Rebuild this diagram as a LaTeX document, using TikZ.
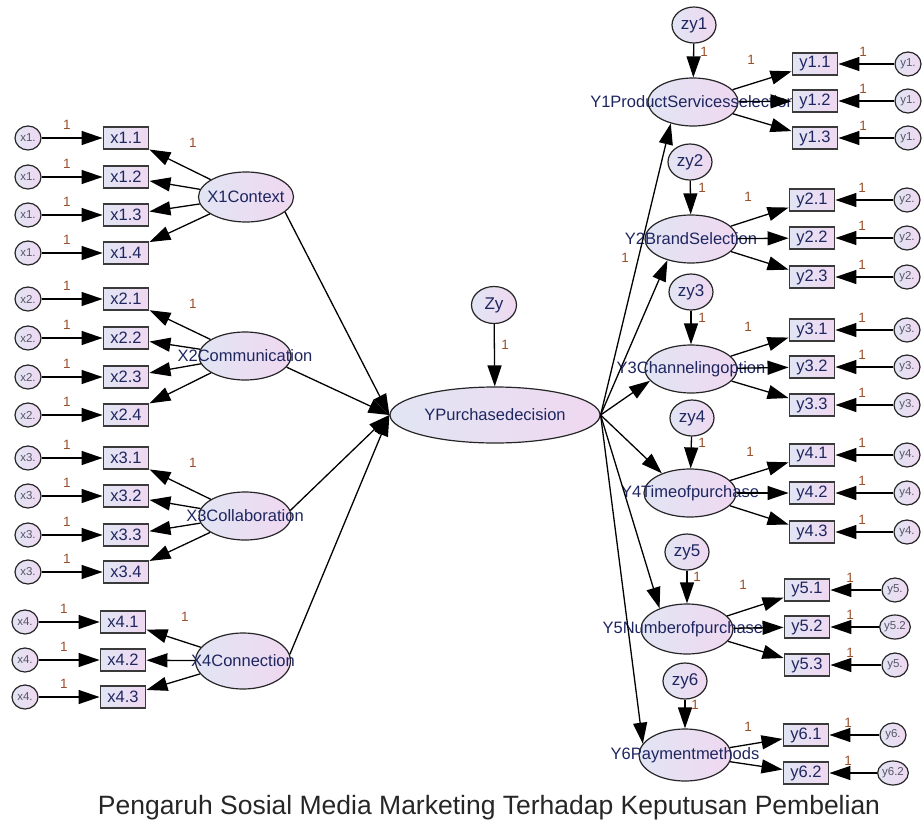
\documentclass[tikz,border=0pt]{standalone}
\usepackage{fontspec}
\setmainfont{Liberation Sans}
\usetikzlibrary{arrows.meta,shapes.geometric}
\definecolor{fillA}{HTML}{E2E5F3}
\definecolor{fillB}{HTML}{EFD8F1}
\definecolor{txt}{HTML}{1E2660}
\definecolor{onec}{HTML}{9A4E2A}
\definecolor{edgec}{HTML}{262626}
\definecolor{boxc}{HTML}{3A3A3A}
\definecolor{errt}{HTML}{555566}
\pgfdeclarelayer{back}
\pgfsetlayers{back,main}
\begin{document}
\begin{tikzpicture}[x=1pt,y=-1pt,
  latent/.style={ellipse,draw=edgec,line width=1.2pt,left color=fillA,right color=fillB,
    minimum width=92pt,minimum height=48pt,inner sep=0pt},
  latname/.style={inner sep=0pt,text=txt,font=\fontsize{16.5}{18}\selectfont},
  obs/.style={rectangle,draw=boxc,line width=1.9pt,left color=fillA,right color=fillB,
    minimum width=45pt,minimum height=22pt,inner sep=0pt,text=txt,font=\fontsize{16.5}{18}\selectfont},
  err/.style={ellipse,draw=edgec,line width=1.2pt,left color=fillA,right color=fillB,
    minimum width=26pt,minimum height=24pt,inner sep=0pt,text=errt,font=\fontsize{11.5}{12}\selectfont},
  dist/.style={ellipse,draw=edgec,line width=1.2pt,left color=fillA,right color=fillB,
    minimum width=44pt,minimum height=36pt,inner sep=0pt,text=txt,font=\fontsize{17}{18}\selectfont},
  one/.style={inner sep=0pt,text=onec,font=\fontsize{13.5}{14}\selectfont},
  ar/.style={draw=black,line width=1.3pt,-{Triangle[length=21pt,width=14pt]}}
]
\useasboundingbox (0,0) rectangle (922,825);

% ---------- latent variables (back layer, texts under boxes and arrows)
\begin{pgfonlayer}{back}
\node[latent,minimum width=95pt,minimum height=50pt] (X1) at (246,197) {};
\node[latname] at (X1) {X1Context};
\node[latent] (X2) at (245,356) {};
\node[latname] at (X2) {X2Communication};
\node[latent] (X3) at (245,516) {};
\node[latname] at (X3) {X3Collaboration};
\node[latent,minimum width=95pt,minimum height=56pt] (X4) at (243,661) {};
\node[latname] at (X4) {X4Connection};

\node[latent,minimum width=210pt,minimum height=56pt] (YP) at (495,415) {};
\node[latname] at (YP) {YPurchasedecision};

\node[latent,minimum width=90pt] (Y1) at (693,102) {};
\node[latname] at (Y1) {Y1ProductServicesselection};
\node[latent] (Y2) at (691,239) {};
\node[latname] at (Y2) {Y2BrandSelection};
\node[latent] (Y3) at (691,369) {};
\node[latname] at (Y3) {Y3Channelingoption};
\node[latent] (Y4) at (690,493) {};
\node[latname] at (Y4) {Y4Timeofpurchase};
\node[latent,minimum height=50pt] (Y5) at (687,629) {};
\node[latname] at (Y5) {Y5Numberofpurchases};
\node[latent,minimum height=52pt] (Y6) at (685,755) {};
\node[latname] at (Y6) {Y6Paymentmethods};
\end{pgfonlayer}

% ---------- disturbances
\node[dist,minimum width=45pt,minimum height=37pt] (Zy) at (494,305) {Zy};
\node[dist] (zy1) at (694,25) {zy1};
\node[dist] (zy2) at (690,162) {zy2};
\node[dist] (zy3) at (691,292) {zy3};
\node[dist] (zy4) at (692,418) {zy4};
\node[dist] (zy5) at (687,552) {zy5};
\node[dist] (zy6) at (685,681) {zy6};

\draw[ar] (Zy) -- (YP);
\node[one] at (505,345) {1};
\draw[ar] (zy1) -- (Y1); \node[one] at (704,52) {1};
\draw[ar] (zy2) -- (Y2); \node[one] at (702,188) {1};
\draw[ar] (zy3) -- (Y3); \node[one] at (702,318) {1};
\draw[ar] (zy4) -- (Y4); \node[one] at (702,443) {1};
\draw[ar] (zy5) -- (Y5); \node[one] at (697,577) {1};
\draw[ar] (zy6) -- (Y6); \node[one] at (695,705) {1};

% ---------- left indicators
\foreach \a/\b/\y/\bx/\ex in {1/1/138/126/28,1/2/177/126/28,1/3/215/126/28,1/4/253/126/28,
  2/1/299/126/28,2/2/338/126/28,2/3/377/126/28,2/4/415/126/28,
  3/1/458/126/28,3/2/496/126/28,3/3/535/126/28,3/4/572/126/28,
  4/1/622/123/25,4/2/660/123/25,4/3/697/123/25}{
  \node[obs] (x\a\b) at (\bx,\y) {x\a.\b};
  \node[err] (ex\a\b) at (\ex,\y) {x\a.};
  \draw[ar] (ex\a\b) -- (x\a\b);
  \node[one] at (\ex+39,\y-13) {1};
}
\foreach \b in {1,2,3,4}{
  \draw[ar] (X1) -- (x1\b);
  \draw[ar] (X2) -- (x2\b);
  \draw[ar] (X3) -- (x3\b);
}
\foreach \b in {1,2,3}{\draw[ar] (X4) -- (x4\b);}
\node[one] at (193,143) {1};
\node[one] at (193,304) {1};
\node[one] at (193,463) {1};
\node[one] at (185,617) {1};

% ---------- structural paths
\draw[ar] (X1.339) -- (YP.west);
\draw[ar] (X2.345) -- (YP.west);
\draw[ar] (X3.7) -- (YP.west);
\draw[ar] (X4.8) -- (YP.west);

\draw[ar] (YP.east) -- (Y1.224);
\draw[ar] (YP.east) -- (Y2.222);
\draw[ar] (YP.east) -- (Y3.196);
\draw[ar] (YP.east) -- (Y4.145);
\draw[ar] (YP.east) -- (Y5.143);
\draw[ar] (YP.east) -- (Y6.165);
\node[one] at (625,258) {1};

% ---------- right indicators
\foreach \a/\b/\y/\bx/\ex/\et in {1/1/64/815/908/y1.,1/2/101/815/908/y1.,1/3/138/815/908/y1.,
  2/1/200/812/907/y2.,2/2/238/812/907/y2.,2/3/277/812/907/y2.,
  3/1/330/812/907/y3.,3/2/367/812/907/y3.,3/3/405/812/907/y3.,
  4/1/455/812/907/y4.,4/2/493/812/907/y4.,4/3/532/812/907/y4.,
  5/1/590/807/895/y5.,5/2/627/807/895/y5.2,5/3/665/807/895/y5.,
  6/1/735/806/893/y6.,6/2/773/806/893/y6.2}{
  \node[obs] (y\a\b) at (\bx,\y) {y\a.\b};
  \node[err] (ey\a\b) at (\ex,\y) {\et};
  \draw[ar] (ey\a\b) -- (y\a\b);
  \node[one] at (\ex-45,\y-12) {1};
}
\foreach \b in {1,2,3}{
  \draw[ar] (Y1) -- (y1\b);
  \draw[ar] (Y2) -- (y2\b);
  \draw[ar] (Y3) -- (y3\b);
  \draw[ar] (Y4) -- (y4\b);
  \draw[ar] (Y5) -- (y5\b);
}
\draw[ar] (Y6) -- (y61);
\draw[ar] (Y6) -- (y62);
\node[one] at (751,60) {1};
\node[one] at (748,197) {1};
\node[one] at (748,327) {1};
\node[one] at (750,452) {1};
\node[one] at (743,585) {1};
\node[one] at (748,727) {1};

% ---------- title
\node[text=black!85,font=\fontsize{26.5}{28}\selectfont,inner sep=0pt] (title) at (489,808)
  {Pengaruh Sosial Media Marketing Terhadap Keputusan Pembelian};
\end{tikzpicture}
\end{document}
